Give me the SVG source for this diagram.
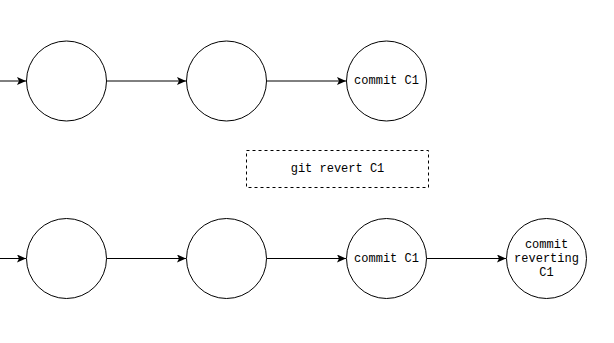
<svg xmlns="http://www.w3.org/2000/svg" width="614" height="343" viewBox="0 0 614 343">
<style>
.n{fill:#fff;stroke:#000;stroke-width:1}
.t{font-family:"Liberation Mono","Courier New",monospace;font-size:12px;fill:#000;text-anchor:middle;dominant-baseline:central}
.e{fill:none;stroke:#000;stroke-width:1}
</style>
<defs>
<marker id="a" markerWidth="10" markerHeight="8" refX="9" refY="4" orient="auto" markerUnits="userSpaceOnUse">
<path d="M0,0 L9,4 L0,8 L2,4 Z" fill="#000"/>
</marker>
</defs>
<rect width="614" height="343" fill="#fff"/>
<g id="connectors">
<line class="e" x1="0" y1="81" x2="26" y2="81" marker-end="url(#a)"/>
<line class="e" x1="106.5" y1="81" x2="186" y2="81" marker-end="url(#a)"/>
<line class="e" x1="266.5" y1="81" x2="346" y2="81" marker-end="url(#a)"/>
<line class="e" x1="0" y1="258.5" x2="26" y2="258.5" marker-end="url(#a)"/>
<line class="e" x1="106.5" y1="258.5" x2="186" y2="258.5" marker-end="url(#a)"/>
<line class="e" x1="266.5" y1="258.5" x2="346" y2="258.5" marker-end="url(#a)"/>
<line class="e" x1="426.5" y1="258.5" x2="506" y2="258.5" marker-end="url(#a)"/>
</g>
<g id="r1c1"><circle class="n" cx="66.5" cy="81" r="40"/></g>
<g id="r1c2"><circle class="n" cx="226.5" cy="81" r="40"/></g>
<g id="r1c3"><circle class="n" cx="386.5" cy="81" r="40"/><text class="t" x="386.5" y="81">commit C1</text></g>
<g id="revert"><rect x="246.5" y="150.5" width="182" height="37" fill="#fff" stroke="#000" stroke-dasharray="3,3"/><text class="t" x="337.5" y="169">git revert C1</text></g>
<g id="r2c1"><circle class="n" cx="66.5" cy="258.5" r="40"/></g>
<g id="r2c2"><circle class="n" cx="226.5" cy="258.5" r="40"/></g>
<g id="r2c3"><circle class="n" cx="386.5" cy="258.5" r="40"/><text class="t" x="386.5" y="258.5">commit C1</text></g>
<g id="r2c4"><circle class="n" cx="546.5" cy="258.5" r="40"/><text class="t" x="546.5" y="244.5">commit</text><text class="t" x="546.5" y="258.5">reverting</text><text class="t" x="546.5" y="272.5">C1</text></g>
</svg>
